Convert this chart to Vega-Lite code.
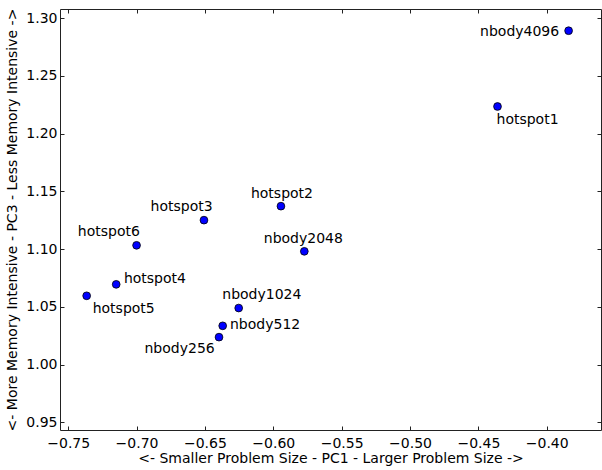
{
  "$schema": "https://vega.github.io/schema/vega-lite/v6.json",
  "width": 541,
  "height": 421,
  "padding": {"left": 60, "top": 9, "right": 1, "bottom": 40},
  "autosize": {"type": "none"},
  "background": "white",
  "config": {
    "view": {"stroke": "#222", "strokeWidth": 1},
    "font": "DejaVu Sans",
    "axis": {
      "labelFont": "DejaVu Sans",
      "labelFontSize": 14,
      "labelColor": "#000",
      "titleFont": "DejaVu Sans",
      "titleFontSize": 14,
      "titleFontWeight": "normal",
      "titleColor": "#000",
      "domain": false,
      "grid": false,
      "tickColor": "#222",
      "tickWidth": 1,
      "tickSize": -4
    },
    "text": {"font": "DejaVu Sans", "fontSize": 14, "color": "#000"}
  },
  "data": {
    "values": [
      {"name": "nbody4096", "pc1": -0.384, "pc3": 1.289},
      {"name": "hotspot1", "pc1": -0.436, "pc3": 1.2234},
      {"name": "hotspot3", "pc1": -0.6507, "pc3": 1.125},
      {"name": "hotspot2", "pc1": -0.5944, "pc3": 1.1371},
      {"name": "hotspot6", "pc1": -0.7, "pc3": 1.1032},
      {"name": "nbody2048", "pc1": -0.5773, "pc3": 1.098},
      {"name": "hotspot4", "pc1": -0.7149, "pc3": 1.0694},
      {"name": "hotspot5", "pc1": -0.7365, "pc3": 1.0595},
      {"name": "nbody1024", "pc1": -0.6253, "pc3": 1.0489},
      {"name": "nbody512", "pc1": -0.637, "pc3": 1.0335},
      {"name": "nbody256", "pc1": -0.6397, "pc3": 1.0237}
    ]
  },
  "resolve": {"axis": {"x": "independent", "y": "independent"}},
  "layer": [
    {
      "mark": {"type": "point", "opacity": 0},
      "encoding": {
        "x": {"field": "pc1", "type": "quantitative", "scale": {"domain": [-0.756, -0.3603], "nice": false, "zero": false},
          "axis": {"orient": "top", "labels": false, "title": null, "values": [-0.75, -0.7, -0.65, -0.6, -0.55, -0.5, -0.45, -0.4]}},
        "y": {"field": "pc3", "type": "quantitative", "scale": {"domain": [0.9433, 1.3078], "nice": false, "zero": false},
          "axis": {"orient": "right", "labels": false, "title": null, "values": [0.95, 1.0, 1.05, 1.1, 1.15, 1.2, 1.25, 1.3]}}
      }
    },
    {
      "mark": {"type": "circle", "size": 60, "color": "#0000ff", "opacity": 1, "stroke": "#000", "strokeWidth": 0.8},
      "encoding": {
        "x": {"field": "pc1", "type": "quantitative", "scale": {"domain": [-0.756, -0.3603], "nice": false, "zero": false},
          "axis": {"orient": "bottom", "title": "<- Smaller Problem Size - PC1 - Larger Problem Size ->",
            "values": [-0.75, -0.7, -0.65, -0.6, -0.55, -0.5, -0.45, -0.4],
            "labelExpr": "replace(format(datum.value, '.2f'), '-', '\u2212')",
            "labelPadding": 10, "titlePadding": 1}},
        "y": {"field": "pc3", "type": "quantitative", "scale": {"domain": [0.9433, 1.3078], "nice": false, "zero": false},
          "axis": {"orient": "left", "title": "<- More Memory Intensive - PC3 - Less Memory Intensive ->",
            "values": [0.95, 1.0, 1.05, 1.1, 1.15, 1.2, 1.25, 1.3], "format": ".2f",
            "labelPadding": 7, "titlePadding": 6}}
      }
    },
    {"transform": [{"filter": "datum.name == 'nbody4096'"}], "mark": {"type": "text", "align": "right", "baseline": "alphabetic", "dx": -9.4, "dy": 5},
      "encoding": {"x": {"field": "pc1", "type": "quantitative", "axis": null}, "y": {"field": "pc3", "type": "quantitative", "axis": null}, "text": {"field": "name"}}},
    {"transform": [{"filter": "datum.name == 'hotspot1'"}], "mark": {"type": "text", "align": "left", "baseline": "alphabetic", "dx": -1, "dy": 17.5},
      "encoding": {"x": {"field": "pc1", "type": "quantitative", "axis": null}, "y": {"field": "pc3", "type": "quantitative", "axis": null}, "text": {"field": "name"}}},
    {"transform": [{"filter": "datum.name == 'hotspot3'"}], "mark": {"type": "text", "align": "right", "baseline": "alphabetic", "dx": 8.7, "dy": -9},
      "encoding": {"x": {"field": "pc1", "type": "quantitative", "axis": null}, "y": {"field": "pc3", "type": "quantitative", "axis": null}, "text": {"field": "name"}}},
    {"transform": [{"filter": "datum.name == 'hotspot2'"}], "mark": {"type": "text", "align": "center", "baseline": "alphabetic", "dx": 1, "dy": -8},
      "encoding": {"x": {"field": "pc1", "type": "quantitative", "axis": null}, "y": {"field": "pc3", "type": "quantitative", "axis": null}, "text": {"field": "name"}}},
    {"transform": [{"filter": "datum.name == 'hotspot6'"}], "mark": {"type": "text", "align": "right", "baseline": "alphabetic", "dx": 3.3, "dy": -9},
      "encoding": {"x": {"field": "pc1", "type": "quantitative", "axis": null}, "y": {"field": "pc3", "type": "quantitative", "axis": null}, "text": {"field": "name"}}},
    {"transform": [{"filter": "datum.name == 'nbody2048'"}], "mark": {"type": "text", "align": "center", "baseline": "alphabetic", "dx": -1, "dy": -8},
      "encoding": {"x": {"field": "pc1", "type": "quantitative", "axis": null}, "y": {"field": "pc3", "type": "quantitative", "axis": null}, "text": {"field": "name"}}},
    {"transform": [{"filter": "datum.name == 'hotspot4'"}], "mark": {"type": "text", "align": "left", "baseline": "alphabetic", "dx": 7.7, "dy": -1.3},
      "encoding": {"x": {"field": "pc1", "type": "quantitative", "axis": null}, "y": {"field": "pc3", "type": "quantitative", "axis": null}, "text": {"field": "name"}}},
    {"transform": [{"filter": "datum.name == 'hotspot5'"}], "mark": {"type": "text", "align": "left", "baseline": "alphabetic", "dx": 6, "dy": 17.3},
      "encoding": {"x": {"field": "pc1", "type": "quantitative", "axis": null}, "y": {"field": "pc3", "type": "quantitative", "axis": null}, "text": {"field": "name"}}},
    {"transform": [{"filter": "datum.name == 'nbody1024'"}], "mark": {"type": "text", "align": "left", "baseline": "alphabetic", "dx": -16.4, "dy": -9.5},
      "encoding": {"x": {"field": "pc1", "type": "quantitative", "axis": null}, "y": {"field": "pc3", "type": "quantitative", "axis": null}, "text": {"field": "name"}}},
    {"transform": [{"filter": "datum.name == 'nbody512'"}], "mark": {"type": "text", "align": "left", "baseline": "alphabetic", "dx": 7.3, "dy": 3.5},
      "encoding": {"x": {"field": "pc1", "type": "quantitative", "axis": null}, "y": {"field": "pc3", "type": "quantitative", "axis": null}, "text": {"field": "name"}}},
    {"transform": [{"filter": "datum.name == 'nbody256'"}], "mark": {"type": "text", "align": "right", "baseline": "alphabetic", "dx": -4.3, "dy": 16.3},
      "encoding": {"x": {"field": "pc1", "type": "quantitative", "axis": null}, "y": {"field": "pc3", "type": "quantitative", "axis": null}, "text": {"field": "name"}}}
  ]
}
